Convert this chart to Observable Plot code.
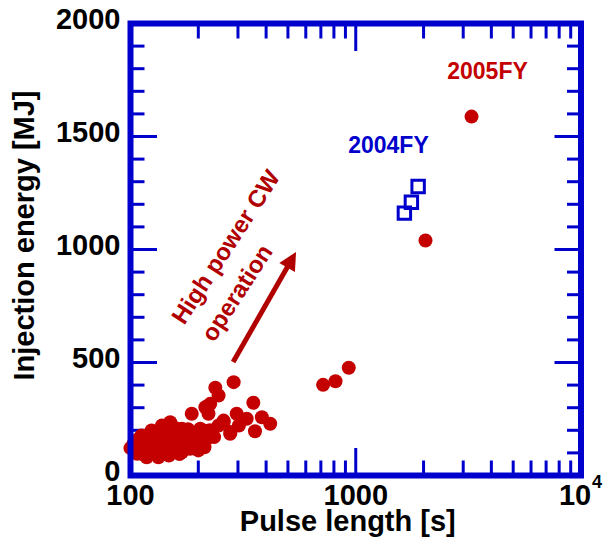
<!DOCTYPE html>
<html>
<head>
<meta charset="utf-8">
<script src="https://cdn.jsdelivr.net/npm/d3@7"></script>
<script src="https://cdn.jsdelivr.net/npm/@observablehq/plot@0.6"></script>
<style>
  html, body { margin: 0; padding: 0; background: #fff; }
</style>
</head>
<body>
<div id="chart"></div>
<script>
// 2005FY shots: pulse length [s], injection energy [MJ]
const pulse2005 = [
  100, 107, 118, 133, 148, 169, 184, 200, 112, 124, 138, 150, 169, 204, 218, 222,
  103, 105, 108, 110, 113, 115, 118, 120, 122, 125, 127, 128, 130, 132, 135, 137,
  140, 142, 145, 147, 150, 153, 155, 158, 160, 163, 165, 168, 170, 173, 175, 178,
  180, 183, 186, 190, 193, 196, 200, 205, 210, 213, 225, 235, 211, 187,
  215, 222, 226, 246, 238, 287, 259, 277, 296, 303, 328, 351, 357, 383, 417, 246, 278, 259,
  716, 813, 931, 2040, 3266
];
const energy2005 = [
  121, 96, 81, 81, 88, 103, 118, 111, 177, 199, 221, 236, 207, 207, 162, 310,
  140, 110, 160, 125, 95, 145, 175, 120, 100, 160, 135, 190, 110, 150, 175, 95,
  130, 200, 115, 160, 180, 100, 140, 210, 120, 165, 95, 190, 140, 115, 175, 150,
  205, 130, 165, 140, 185, 125, 160, 140, 180, 125, 200, 170, 199, 273,
  302, 273, 317, 354, 388, 413, 243, 185, 273, 221, 251, 322, 196, 258, 229, 221, 192, 236,
  401, 417, 477, 1040, 1588
];
// 2004FY shots
const pulse2004 = [1644, 1766, 1892];
const energy2004 = [1161, 1209, 1279];

// axis ticks
const xLabelTicks = [100, 1000];
const xMajorTicks = [100, 1000, 10000];
const xMinorTicks = [200, 300, 400, 500, 600, 700, 800, 900, 2000, 3000, 4000, 5000, 6000, 7000, 8000, 9000];
const yMajorTicks = [0, 500, 1000, 1500, 2000];
const yMinorTicks = [100, 200, 300, 400, 600, 700, 800, 900, 1100, 1200, 1300, 1400, 1600, 1700, 1800, 1900];
const powerTick = [{x: 10000, base: "10", exp: "4"}];

// annotations (data coordinates)
const yearLabels = ["2005FY", "2004FY"];
const yearLabelX = [3846, 1397];
const yearLabelY = [1788, 1460];
const noteLines = ["High power CW", "operation"];
const noteX = [266, 298];
const noteY = [1010, 807];
const arrowFrom = [287, 500];
const arrowTo = [546, 987];

const data2005 = pulse2005.map((x, i) => ({x, y: energy2005[i]}));
const data2004 = pulse2004.map((x, i) => ({x, y: energy2004[i]}));
const yearData = yearLabels.map((t, i) => ({t, x: yearLabelX[i], y: yearLabelY[i]}));
const noteData = noteLines.map((t, i) => ({t, x: noteX[i], y: noteY[i]}));
const arrowData = [{x1: arrowFrom[0], y1: arrowFrom[1], x2: arrowTo[0], y2: arrowTo[1]}];

const blue = "#0000cc";
const red = "#c40000";
const dark = "#b00000";
const font = "'Liberation Sans', Arial, Helvetica, sans-serif";

const chart = Plot.plot({
  width: 606,
  height: 537,
  marginLeft: 130,
  marginRight: 25.5,
  marginTop: 23,
  marginBottom: 62,
  style: {fontFamily: font, background: "#fff", overflow: "visible"},
  x: {type: "log", domain: [100, 10000], axis: null},
  y: {domain: [0, 2000], axis: null},
  marks: [
    // tick labels
    Plot.axisX({anchor: "bottom", ticks: xLabelTicks, tickSize: 0, tickPadding: 9,
      tickFormat: d => String(d), fontSize: 29, fontWeight: "bold", fill: "#000", label: null}),
    Plot.text(powerTick, {x: "x", text: "base", frameAnchor: "bottom", lineAnchor: "top", dy: 9, dx: -6,
      fontSize: 29, fontWeight: "bold", fill: "#000"}),
    Plot.text(powerTick, {x: "x", text: "exp", frameAnchor: "bottom", lineAnchor: "top", dy: 0, dx: 16,
      fontSize: 18, fontWeight: "bold", fill: "#000"}),
    Plot.axisY({anchor: "left", ticks: yMajorTicks, tickSize: 0, tickPadding: 10,
      tickFormat: d => String(d), fontSize: 29, fontWeight: "bold", fill: "#000", dy: -4, label: null}),
    // inward ticks on all four sides
    Plot.axisX({anchor: "bottom", ticks: xMinorTicks, tickSize: -14.5, stroke: blue, strokeWidth: 3, fill: "none", label: null}),
    Plot.axisX({anchor: "bottom", ticks: xMajorTicks, tickSize: -27, stroke: blue, strokeWidth: 3, fill: "none", label: null}),
    Plot.axisX({anchor: "top", ticks: xMinorTicks, tickSize: -14.5, stroke: blue, strokeWidth: 3, fill: "none", label: null}),
    Plot.axisX({anchor: "top", ticks: xMajorTicks, tickSize: -27, stroke: blue, strokeWidth: 3, fill: "none", label: null}),
    Plot.axisY({anchor: "left", ticks: yMinorTicks, tickSize: -14.5, stroke: blue, strokeWidth: 3, fill: "none", label: null}),
    Plot.axisY({anchor: "left", ticks: yMajorTicks, tickSize: -27, stroke: blue, strokeWidth: 3, fill: "none", label: null}),
    Plot.axisY({anchor: "right", ticks: yMinorTicks, tickSize: -14.5, stroke: blue, strokeWidth: 3, fill: "none", label: null}),
    Plot.axisY({anchor: "right", ticks: yMajorTicks, tickSize: -27, stroke: blue, strokeWidth: 3, fill: "none", label: null}),
    // axis titles
    Plot.text(["Pulse length [s]"], {frameAnchor: "bottom", textAnchor: "middle", dx: -8, dy: 55, lineAnchor: "bottom",
      fontSize: 29, fontWeight: "bold", fill: "#000"}),
    Plot.text(["Injection energy [MJ]"], {frameAnchor: "left", textAnchor: "middle", rotate: -90, dx: -97, dy: -14, lineAnchor: "bottom",
      fontSize: 29, fontWeight: "bold", fill: "#000"}),
    // data
    Plot.dot(data2005, {x: "x", y: "y", r: 7, fill: red}),
    Plot.dot(data2004, {x: "x", y: "y", symbol: "square", r: 7, stroke: blue, strokeWidth: 3, fill: "none"}),
    // year labels
    Plot.text(yearData, {x: "x", y: "y", text: "t", fontSize: 23, fontWeight: "bold",
      fill: (d) => d.t === "2004FY" ? blue : red}),
    // annotation text
    Plot.text(noteData, {x: "x", y: "y", text: "t", rotate: -57, fontSize: 24, fontWeight: "bold", fill: dark}),
    // arrow with filled head
    Plot.link(arrowData, {x1: "x1", y1: "y1", x2: "x2", y2: "y2",
      render: (index, scales, values) => {
        const g = d3.create("svg:g");
        for (const i of index) {
          const x1 = values.x1[i], y1 = values.y1[i], x2 = values.x2[i], y2 = values.y2[i];
          const dx = x2 - x1, dy = y2 - y1, L = Math.hypot(dx, dy);
          const ux = dx / L, uy = dy / L, px = -uy, py = ux;
          const hl = 18, hw = 9;
          const bx = x2 - ux * hl, by = y2 - uy * hl;
          g.append("line").attr("x1", x1).attr("y1", y1).attr("x2", bx + ux * 2).attr("y2", by + uy * 2)
            .attr("stroke", dark).attr("stroke-width", 5);
          g.append("path")
            .attr("d", `M${x2},${y2}L${bx + px * hw},${by + py * hw}L${bx - px * hw},${by - py * hw}Z`)
            .attr("fill", dark);
        }
        return g.node();
      }}),
    Plot.frame({stroke: blue, strokeWidth: 6})
  ]
});
document.getElementById("chart").appendChild(chart);
</script>
</body>
</html>
